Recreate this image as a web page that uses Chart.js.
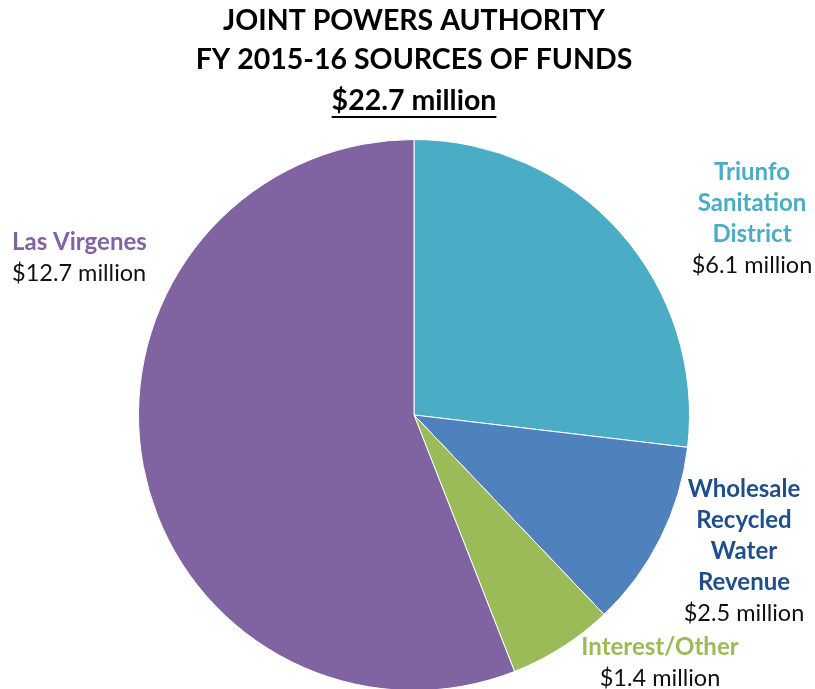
<!DOCTYPE html>
<html><head><meta charset="utf-8">
<script src="https://cdn.jsdelivr.net/npm/chart.js@4/dist/chart.umd.min.js"></script>
<style>html,body{margin:0;padding:0;background:#fff;overflow:hidden;}#wrap{position:relative;width:815px;height:720px;}</style>
</head><body><div id="wrap"><canvas id="c" width="815" height="720"></canvas></div>
<script>
const categories = ["Triunfo Sanitation District", "Wholesale Recycled Water Revenue", "Interest/Other", "Las Virgenes"];
const values = [6.1, 2.5, 1.4, 12.7];
const valueLabels = ["$6.1 million", "$2.5 million", "$1.4 million", "$12.7 million"];
const labelLines = [["Triunfo","Sanitation","District"],["Wholesale","Recycled","Water","Revenue"],["Interest/Other"],["Las Virgenes"]];
const titleLines = ["JOINT POWERS AUTHORITY", "FY 2015-16 SOURCES OF FUNDS", "$22.7 million"];

const sliceColors = ["#4BACC6", "#4F81BD", "#9BBB59", "#8064A2"];
const textColors = ["#4BACC6", "#1F4E8C", "#9BBB59", "#8064A2"];
// label layout: x, first-line y, alignment
const labelPos = [
  {x: 752, y: 172, align: "center"},
  {x: 744, y: 489, align: "center"},
  {x: 660, y: 647, align: "center"},
  {x: 12, y: 242, align: "left"}
];
const FONT = "Lato, 'Open Sans', sans-serif";
const lineH = 31;

const labelPlugin = {
  id: "labels",
  afterDraw(chart) {
    const ctx = chart.ctx;
    ctx.save();
    ctx.textBaseline = "middle";
    ctx.fillStyle = "#000";
    ctx.textAlign = "center";
    ctx.font = "bold 28.5px " + FONT;
    const ty = [21, 60, 101];
    titleLines.forEach((t, i) => {
      ctx.fillText(t, 414, ty[i]);
      if (i === 2) {
        const w = ctx.measureText(t).width;
        ctx.fillRect(414 - w / 2, ty[i] + 15, w, 2);
      }
    });
    labelPos.forEach((p, i) => {
      ctx.textAlign = p.align;
      ctx.font = "bold 24px " + FONT;
      ctx.fillStyle = textColors[i];
      let y = p.y;
      labelLines[i].forEach(l => { ctx.fillText(l, p.x, y); y += lineH; });
      ctx.font = "23.5px " + FONT;
      ctx.fillStyle = "#111";
      ctx.fillText(valueLabels[i], p.x, y);
    });
    ctx.restore();
  }
};

new Chart(document.getElementById("c"), {
  type: "pie",
  data: {
    labels: categories,
    datasets: [{ data: values, backgroundColor: sliceColors, borderColor: "#ffffff", borderWidth: 1 }]
  },
  options: {
    responsive: false,
    animation: false,
    layout: { padding: { left: 138, right: 125, top: 139, bottom: 29 } },
    plugins: { legend: { display: false }, title: { display: false }, tooltip: { enabled: false } }
  },
  plugins: [labelPlugin]
});
</script></body></html>
